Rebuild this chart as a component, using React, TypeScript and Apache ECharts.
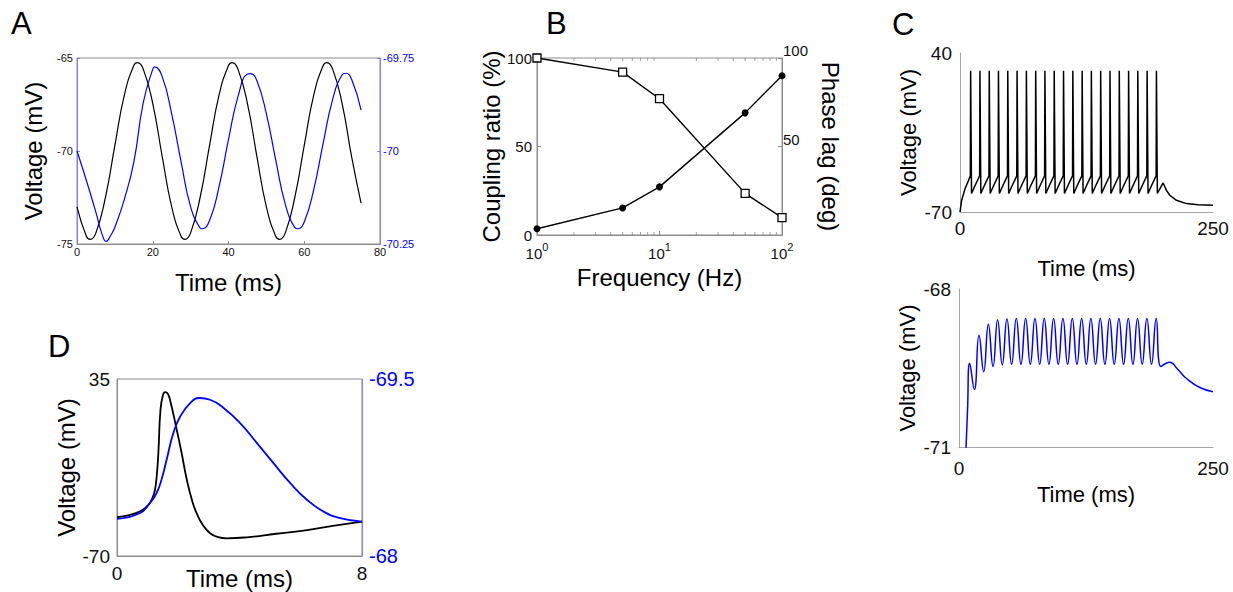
import React, { useEffect, useRef } from "react";
import * as echarts from "echarts";

// ---------- Panel A ----------
const aBlackT = [0, 2.5, 3.5, 5, 7.5, 10, 12.5, 15, 16, 17.5, 20, 22.5, 25, 27.5, 28.5, 30, 32.5, 35, 37.5, 40, 41, 42.5, 45, 47.5, 50, 52.5, 53.5, 55, 57.5, 60, 62.5, 65, 66, 67.5, 70, 72.5, 75];
const aBlackV = [-73.0, -74.6, -74.75, -74.4, -72.5, -69.7, -67.0, -65.4, -65.25, -65.6, -67.45, -70.3, -73.0, -74.6, -74.75, -74.4, -72.5, -69.7, -67.0, -65.4, -65.25, -65.6, -67.45, -70.3, -73.0, -74.6, -74.75, -74.4, -72.5, -69.7, -67.0, -65.4, -65.25, -65.6, -67.45, -70.3, -72.8];
const aBlueT = [0, 2.5, 5, 6.5, 7.7, 9, 10, 12.5, 15, 17.5, 20, 20.5, 22.5, 25, 27.5, 30, 32.5, 33, 35, 37.5, 40, 42.5, 45, 45.8, 47.5, 50, 52.5, 55, 57.5, 58.3, 60, 62.5, 65, 67.5, 70, 71, 72.5, 75];
const aBlueV = [-70.0, -70.08, -70.165, -70.22, -70.243, -70.225, -70.205, -70.13, -70.03, -69.87, -69.78, -69.774, -69.8, -69.9, -70.03, -70.15, -70.207, -70.209, -70.187, -70.096, -69.969, -69.854, -69.793, -69.792, -69.811, -69.9, -70.026, -70.143, -70.206, -70.209, -70.191, -70.104, -69.979, -69.861, -69.795, -69.791, -69.807, -69.89];

// ---------- Panel B ----------
const bFreq = [1, 5, 10, 50, 100];
const bCoupling = [100, 92, 77, 23.5, 9.8];
const bPhaseLag = [3.5, 15.3, 27.2, 69, 90];
const bMinorTicks = [2, 3, 4, 5, 6, 7, 8, 9, 20, 30, 40, 50, 60, 70, 80, 90];

// ---------- Panel C (top, black) ----------
const cSpikeTimes = [10.5, 19.7, 28.9, 38.0, 47.2, 56.4, 65.6, 74.8, 83.9, 93.1, 102.3, 111.5, 120.7, 129.8, 139.0, 148.2, 157.4, 166.6, 175.7, 184.9, 194.1];
const cOnsetT = [0, 1.6, 4.9, 8.2, 10.2];
const cOnsetV = [-70, -62, -54, -48.5, -45];
const cSpikePeakV = 27.7;
const cSpikeTroughV = -57.2;
const cRiseMidV = -51.5;
const cThresholdV = -45;
const cTailT = [200.7, 204, 207.3, 213.9, 223.8, 235, 250];
const cTailV = [-49.9, -55, -58.4, -61.9, -64.2, -65.0, -65.3];

// ---------- Panel C (bottom, blue) ----------
const cbOnsetT = [6.3, 8.4];
const cbOnsetV = [-71.3, -70.3];
const cbPeakV = [-69.41, -68.88, -68.67, -68.59, -68.57, -68.56, -68.56, -68.56, -68.56, -68.56, -68.56, -68.56, -68.56, -68.56, -68.56, -68.56, -68.56, -68.56, -68.56, -68.56, -68.56];
const cbTroughV = [-69.91, -69.57, -69.47, -69.44, -69.43, -69.43, -69.43, -69.43, -69.43, -69.43, -69.43, -69.43, -69.43, -69.43, -69.43, -69.43, -69.43, -69.43, -69.43, -69.43, -69.47];
const cbTailT = [207.5, 215, 224, 237, 250];
const cbTailV = [-69.39, -69.52, -69.7, -69.87, -69.95];

// ---------- Panel D ----------
const dBlackT = [0, 0.4, 0.74, 0.95, 1.07, 1.17, 1.24, 1.3, 1.35, 1.42, 1.5, 1.57, 1.65, 1.73, 1.95, 2.1, 2.28, 2.45, 2.6, 2.8, 3.04, 3.3, 3.59, 4.24, 5.2, 6.21, 7.1, 8.0];
const dBlackV = [-47.0, -45.7, -43.7, -41.0, -38.7, -35, -30.8, -22, -9.0, 16.8, 25.5, 27.2, 26.5, 22.7, 4.9, -8, -24.8, -37, -44.6, -51.5, -56.5, -58.8, -59.5, -58.9, -56.8, -54.6, -52, -49.6];
const dBlueT = [0, 0.74, 1.07, 1.29, 1.45, 1.62, 1.84, 2.06, 2.39, 2.69, 3.04, 3.48, 4.02, 4.57, 5.11, 5.66, 6.21, 6.75, 7.29, 8.0];
const dBlueV = [-68.314, -68.362, -68.447, -68.532, -68.645, -68.815, -69.042, -69.18, -69.296, -69.339, -69.324, -69.254, -69.127, -68.957, -68.787, -68.617, -68.475, -68.376, -68.32, -68.291];

const FONT = "'Liberation Sans', Arial, Helvetica, sans-serif";
const GRAY = "#8c8c8c";
const LBLUE = "#8080ff";
const BLUE = "#0000ff";

function pairs(t: number[], v: number[]) {
  return t.map((x, i) => [x, v[i]]);
}

function buildCTop() {
  const pts: number[][] = pairs(cOnsetT, cOnsetV);
  cSpikeTimes.forEach((ts, i) => {
    pts.push([ts, cSpikePeakV]);
    pts.push([ts + 0.9, cSpikeTroughV]);
    if (i < cSpikeTimes.length - 1) {
      pts.push([ts + 4.5, cRiseMidV]);
      pts.push([cSpikeTimes[i + 1] - 0.3, cThresholdV]);
    }
  });
  return pts.concat(pairs(cTailT, cTailV));
}

function buildCBottom() {
  const pts: number[][] = pairs(cbOnsetT, cbOnsetV);
  cSpikeTimes.forEach((ts, i) => {
    pts.push([ts, cbPeakV[i]]);
    pts.push([ts + 4.6, cbTroughV[i]]);
  });
  return pts.concat(pairs(cbTailT, cbTailV));
}

function buildOption(): any {
  const tickLbl = (size: number, margin: number, color = "#111") => ({
    fontSize: size,
    margin,
    color,
    fontFamily: FONT,
  });
  const nameStyle = (size: number) => ({ fontSize: size, color: "#000", fontFamily: FONT });
  const gridBase = { outerBoundsMode: "none", containLabel: false };

  return {
    animation: false,
    backgroundColor: "#fff",
    textStyle: { fontFamily: FONT },
    grid: [
      { ...gridBase, left: 77, top: 58, width: 303, height: 186, show: true, borderColor: GRAY, borderWidth: 1, backgroundColor: "transparent" },
      { ...gridBase, left: 537, top: 58, width: 245, height: 177, show: true, borderColor: GRAY, borderWidth: 1, backgroundColor: "transparent" },
      { ...gridBase, left: 960, top: 53, width: 253, height: 159 },
      { ...gridBase, left: 959, top: 289, width: 254, height: 158 },
      { ...gridBase, left: 117, top: 379, width: 245, height: 177, show: true, borderColor: GRAY, borderWidth: 1, backgroundColor: "transparent" },
    ],
    xAxis: [
      {
        type: "value", gridIndex: 0, min: 0, max: 80, interval: 20,
        axisLine: { onZero: false, lineStyle: { color: GRAY } },
        axisTick: { inside: true, length: 3, lineStyle: { color: GRAY } },
        axisLabel: tickLbl(11, 2),
        splitLine: { show: false },
        name: "Time (ms)", nameLocation: "middle", nameGap: 26, nameTextStyle: nameStyle(24),
      },
      {
        type: "log", logBase: 10, gridIndex: 1, min: 1, max: 100,
        axisLine: { onZero: false, lineStyle: { color: GRAY } },
        axisTick: { inside: true, length: 4, lineStyle: { color: GRAY } },
        axisLabel: {
          margin: 6,
          formatter: (v: number) => `{b|10}{s|${Math.round(Math.log10(v))}}`,
          rich: {
            b: { fontSize: 15, color: "#111", fontFamily: FONT, lineHeight: 20, verticalAlign: "bottom" },
            s: { fontSize: 11, color: "#111", fontFamily: FONT, verticalAlign: "top", lineHeight: 11 },
          },
        },
        splitLine: { show: false },
        name: "Frequency (Hz)", nameLocation: "middle", nameGap: 30, nameTextStyle: nameStyle(24),
      },
      {
        type: "value", gridIndex: 2, min: 0, max: 250,
        axisLine: { onZero: false, lineStyle: { color: "#a6a6a6" } },
        axisTick: { show: false },
        axisLabel: { ...tickLbl(19, 7), customValues: [0, 250] },
        splitLine: { show: false },
        name: "Time (ms)", nameLocation: "middle", nameGap: 45, nameTextStyle: nameStyle(22),
      },
      {
        type: "value", gridIndex: 3, min: 0, max: 250,
        axisLine: { onZero: false, lineStyle: { color: "#a6a6a6" } },
        axisTick: { show: false },
        axisLabel: { ...tickLbl(19, 12), customValues: [0, 250] },
        splitLine: { show: false },
        name: "Time (ms)", nameLocation: "middle", nameGap: 36, nameTextStyle: nameStyle(22),
      },
      {
        type: "value", gridIndex: 4, min: 0, max: 8,
        axisLine: { onZero: false, lineStyle: { color: GRAY } },
        axisTick: { show: false },
        axisLabel: { ...tickLbl(19, 8), customValues: [0, 8] },
        splitLine: { show: false },
        name: "Time (ms)", nameLocation: "middle", nameGap: 10, nameMoveOverlap: false,
        nameTextStyle: nameStyle(24),
      },
    ],
    yAxis: [
      {
        type: "value", gridIndex: 0, min: -75, max: -65, interval: 5,
        axisLine: { onZero: false, lineStyle: { color: LBLUE } },
        axisTick: { inside: true, length: 3, lineStyle: { color: LBLUE } },
        axisLabel: tickLbl(11, 4),
        splitLine: { show: false },
        name: "Voltage (mV)", nameLocation: "middle", nameGap: 32, nameTextStyle: nameStyle(24),
      },
      {
        type: "value", gridIndex: 0, position: "right", min: -70.25, max: -69.75, interval: 0.25,
        axisLine: { show: true, onZero: false, lineStyle: { color: LBLUE } },
        axisTick: { show: true, inside: true, length: 3, lineStyle: { color: LBLUE } },
        axisLabel: tickLbl(11, 3, BLUE),
        splitLine: { show: false },
      },
      {
        type: "value", gridIndex: 1, min: 0, max: 100, interval: 50,
        axisLine: { onZero: false, lineStyle: { color: GRAY } },
        axisTick: { inside: true, length: 4, lineStyle: { color: GRAY } },
        axisLabel: tickLbl(15, 5),
        splitLine: { show: false },
        name: "Coupling ratio (%)", nameLocation: "middle", nameGap: 27, nameTextStyle: nameStyle(24),
      },
      {
        type: "value", gridIndex: 1, position: "right", min: 0, max: 100, interval: 50,
        axisLine: { show: true, onZero: false, lineStyle: { color: GRAY } },
        axisTick: { show: true, inside: true, length: 4, lineStyle: { color: GRAY } },
        axisLabel: { ...tickLbl(15, 1), verticalAlign: "bottom", formatter: (v: number) => (v === 0 ? "" : String(v)) },
        splitLine: { show: false },
        name: "Phase lag (deg)", nameLocation: "middle", nameRotate: -90, nameGap: 36, nameTextStyle: nameStyle(24),
      },
      {
        type: "value", gridIndex: 2, min: -70, max: 40,
        axisLine: { show: true, onZero: false, lineStyle: { color: "#a6a6a6" } },
        axisTick: { show: false },
        axisLabel: { ...tickLbl(19, 8), customValues: [-70, 40] },
        splitLine: { show: false },
        name: "Voltage (mV)", nameLocation: "middle", nameGap: 41, nameTextStyle: nameStyle(22),
      },
      {
        type: "value", gridIndex: 3, min: -71, max: -68,
        axisLine: { show: true, onZero: false, lineStyle: { color: "#a6a6a6" } },
        axisTick: { show: false },
        axisLabel: { ...tickLbl(19, 8), customValues: [-71, -68] },
        splitLine: { show: false },
        name: "Voltage (mV)", nameLocation: "middle", nameGap: 41, nameTextStyle: nameStyle(22),
      },
      {
        type: "value", gridIndex: 4, min: -70, max: 35,
        axisLine: { show: true, onZero: false, lineStyle: { color: GRAY } },
        axisTick: { show: false },
        axisLabel: { ...tickLbl(19, 7), customValues: [-70, 35] },
        splitLine: { show: false },
        name: "Voltage (mV)", nameLocation: "middle", nameGap: 27, nameTextStyle: nameStyle(24),
      },
      {
        type: "value", gridIndex: 4, position: "right", min: -69.5, max: -68, inverse: true,
        axisLine: { show: true, onZero: false, lineStyle: { color: LBLUE } },
        axisTick: { show: false },
        axisLabel: { ...tickLbl(20, 7, BLUE), customValues: [-69.5, -68] },
        splitLine: { show: false },
      },
    ],
    graphic: [
      { type: "text", left: 11, top: 8, style: { text: "A", fontSize: 31, fill: "#000", fontFamily: FONT } },
      { type: "text", left: 546, top: 8, style: { text: "B", fontSize: 31, fill: "#000", fontFamily: FONT } },
      { type: "text", left: 892, top: 9, style: { text: "C", fontSize: 31, fill: "#000", fontFamily: FONT } },
      { type: "text", left: 48, top: 331, style: { text: "D", fontSize: 31, fill: "#000", fontFamily: FONT } },
    ],
    series: [
      {
        type: "line", xAxisIndex: 0, yAxisIndex: 0, data: pairs(aBlackT, aBlackV), smooth: true,
        showSymbol: false, lineStyle: { color: "#000", width: 1.2 }, z: 3,
      },
      {
        type: "line", xAxisIndex: 0, yAxisIndex: 1, data: pairs(aBlueT, aBlueV), smooth: true,
        showSymbol: false, lineStyle: { color: BLUE, width: 1.2 }, z: 3,
      },
      {
        type: "line", xAxisIndex: 1, yAxisIndex: 2, data: pairs(bFreq, bCoupling),
        symbol: "rect", symbolSize: 8, showSymbol: true,
        itemStyle: { color: "#fff", borderColor: "#000", borderWidth: 1.3 },
        lineStyle: { color: "#000", width: 1.4 }, z: 3,
      },
      {
        type: "line", xAxisIndex: 1, yAxisIndex: 3, data: pairs(bFreq, bPhaseLag),
        symbol: "circle", symbolSize: 7, showSymbol: true,
        itemStyle: { color: "#000" },
        lineStyle: { color: "#000", width: 1.4 }, z: 3,
      },
      {
        type: "scatter", xAxisIndex: 1, yAxisIndex: 2, silent: true,
        data: bMinorTicks.map((f) => [f, 100]),
        symbol: "rect", symbolSize: [1, 3], symbolOffset: [0, 1.5],
        itemStyle: { color: GRAY }, z: 2,
      },
      {
        type: "scatter", xAxisIndex: 1, yAxisIndex: 2, silent: true,
        data: bMinorTicks.map((f) => [f, 0]),
        symbol: "rect", symbolSize: [1, 3], symbolOffset: [0, -1.5],
        itemStyle: { color: GRAY }, z: 2,
      },
      {
        type: "line", xAxisIndex: 2, yAxisIndex: 4, data: buildCTop(),
        showSymbol: false, lineStyle: { color: "#000", width: 1.5 }, z: 3,
      },
      {
        type: "line", xAxisIndex: 3, yAxisIndex: 5, data: buildCBottom(), smooth: true,
        showSymbol: false, lineStyle: { color: BLUE, width: 1.5 }, clip: true, z: 3,
      },
      {
        type: "line", xAxisIndex: 4, yAxisIndex: 6, data: pairs(dBlackT, dBlackV), smooth: true,
        showSymbol: false, lineStyle: { color: "#000", width: 1.8 }, z: 3,
      },
      {
        type: "line", xAxisIndex: 4, yAxisIndex: 7, data: pairs(dBlueT, dBlueV), smooth: true,
        showSymbol: false, lineStyle: { color: BLUE, width: 1.8 }, z: 3,
      },
    ],
  };
}

export default function App() {
  const ref = useRef<HTMLDivElement>(null);
  useEffect(() => {
    if (!ref.current) return;
    const chart = echarts.init(ref.current, null, { renderer: "svg" });
    chart.setOption(buildOption());
    return () => chart.dispose();
  }, []);
  return (
    <div
      ref={ref}
      style={{ position: "fixed", left: 0, top: 0, width: 1233, height: 592, background: "#fff" }}
    />
  );
}
